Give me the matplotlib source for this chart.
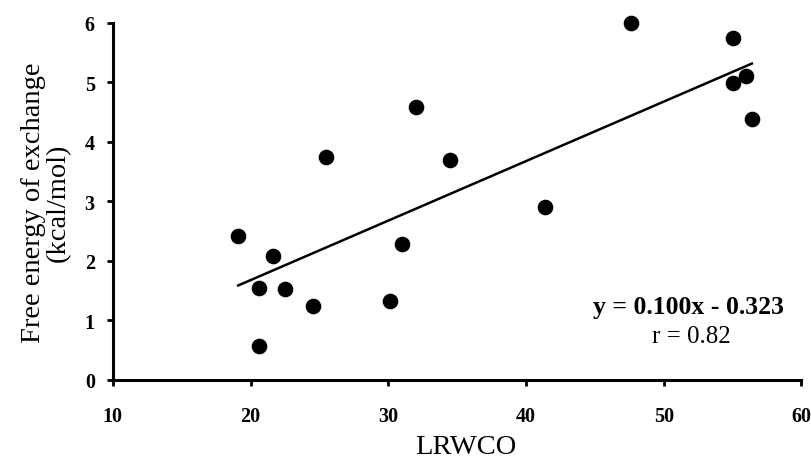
import numpy as np
import matplotlib
matplotlib.use("Agg")
import matplotlib.pyplot as plt

plt.rcParams['font.family'] = ['Liberation Serif', 'DejaVu Serif']

# LRWCO vs free energy of exchange
lrwco = [19.1, 20.6, 20.6, 21.6, 22.5, 24.5, 25.5, 30.1, 31.0, 32.0,
         34.5, 41.4, 47.6, 55.0, 55.0, 56.0, 56.4]
energy = [2.42, 1.55, 0.57, 2.09, 1.53, 1.24, 3.75, 1.32, 2.28, 4.59,
          3.70, 2.91, 6.00, 5.74, 4.99, 5.10, 4.39]

# regression given in the figure
slope = 0.100
intercept = -0.323
r_value = 0.82

fig = plt.figure(figsize=(8.12, 4.6), dpi=100)
ax = fig.add_axes([0.139, 0.172, 0.848, 0.776])

ax.scatter(lrwco, energy, s=105, color='black', zorder=3, clip_on=False)

xl = np.array([min(lrwco), max(lrwco)])
ax.plot(xl, slope * xl + intercept, color='black', lw=1.8)

ax.set_xlim(10, 60)
ax.set_ylim(0, 6)
ax.set_xticks(range(10, 61, 10))
ax.set_yticks(range(0, 7))

for s in ['top', 'right']:
    ax.spines[s].set_visible(False)
for s in ['left', 'bottom']:
    ax.spines[s].set_linewidth(2.2)

ax.tick_params(direction='out', length=4, width=2, labelsize=14.5)
ax.tick_params(axis='x', pad=15)
ax.tick_params(axis='y', pad=9)
for lab in ax.get_xticklabels() + ax.get_yticklabels():
    lab.set_fontweight('bold')

ax.set_xlabel('LRWCO', fontsize=20.5)
ax.xaxis.set_label_coords(0.513, -0.152)
ax.set_ylabel('Free energy of exchange\n(kcal/mol)', fontsize=20.5, labelpad=10,
              linespacing=1.0)

ax.text(0.836, 0.205, 'y = 0.100x - 0.323', transform=ax.transAxes,
        ha='center', va='center', fontsize=18.5, fontweight='bold')
ax.text(0.840, 0.122, 'r = %.2f' % r_value, transform=ax.transAxes,
        ha='center', va='center', fontsize=18)

fig.savefig('out.png', dpi=100)
